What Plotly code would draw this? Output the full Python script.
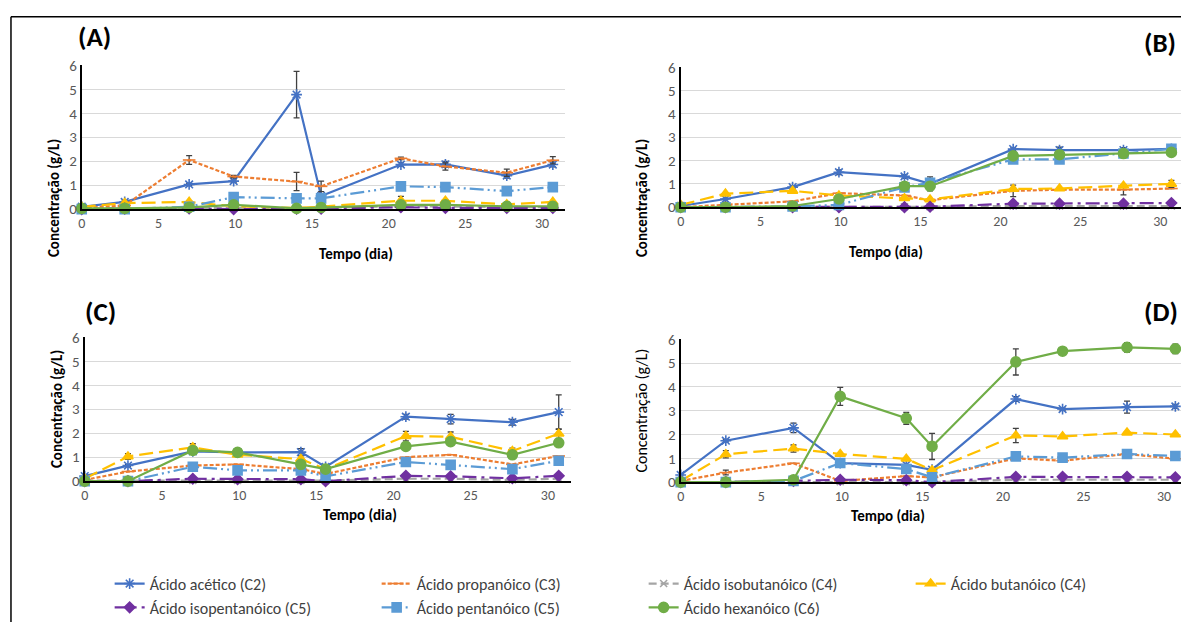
import plotly.graph_objects as go

W, H = 1181, 631

# ---------------- data ----------------
tempo = [0, 2.8, 7, 9.9, 14, 15.6, 20.8, 23.7, 27.7, 30.7]
x_ticks = [0, 5, 10, 15, 20, 25, 30]
y_ticks = [0, 1, 2, 3, 4, 5, 6]

series_names = ["Ácido acético (C2)", "Ácido propanóico (C3)", "Ácido isobutanóico (C4)",
                "Ácido butanóico (C4)", "Ácido isopentanóico (C5)", "Ácido pentanóico (C5)",
                "Ácido hexanóico (C6)"]

# Panel A
A_C2 = [0.1, 0.3, 1.03, 1.17, 4.78, 0.55, 1.86, 1.87, 1.4, 1.86]
A_C3 = [0.05, 0.15, 2.05, 1.36, 1.15, 0.95, 2.12, 1.78, 1.52, 2.04]
A_iC4 = [0.03, 0.03, 0.05, 0.05, 0.03, 0.05, 0.12, 0.1, 0.08, 0.08]
A_C4 = [0.1, 0.25, 0.3, 0.12, 0.05, 0.1, 0.35, 0.35, 0.2, 0.3]
A_iC5 = [0.0, 0.02, 0.03, 0.0, 0.02, 0.02, 0.08, 0.05, 0.05, 0.05]
A_C5 = [0.0, 0.0, 0.1, 0.5, 0.45, 0.45, 0.95, 0.92, 0.75, 0.92]
A_C6 = [0.03, 0.03, 0.07, 0.18, 0.03, 0.07, 0.18, 0.18, 0.12, 0.12]
A_C2_err = [0, 0.05, 0.05, 0.05, 0.97, 0, 0.08, 0.12, 0.1, 0.1]
A_C3_err = [0, 0, 0.18, 0.05, 0.38, 0.22, 0.05, 0.15, 0.15, 0.15]
A_C4_err = [0, 0, 0.05, 0, 0, 0, 0.18, 0.05, 0, 0]

# Panel B
B_C2 = [0.05, 0.35, 0.86, 1.5, 1.32, 1.0, 2.49, 2.45, 2.45, 2.5]
B_C3 = [0.0, 0.1, 0.25, 0.6, 0.5, 0.3, 0.7, 0.75, 0.75, 0.8]
B_iC4 = [0.0, 0.0, 0.02, 0.02, 0.02, 0.02, 0.05, 0.05, 0.05, 0.05]
B_C4 = [0.1, 0.58, 0.7, 0.5, 0.38, 0.33, 0.78, 0.8, 0.92, 1.0]
B_iC5 = [0.0, 0.0, 0.0, 0.0, 0.0, 0.02, 0.15, 0.15, 0.15, 0.18]
B_C5 = [0.0, 0.0, 0.03, 0.1, 0.85, 1.05, 2.05, 2.05, 2.3, 2.5]
B_C6 = [0.0, 0.0, 0.05, 0.35, 0.9, 0.9, 2.2, 2.25, 2.3, 2.35]
B_C2_err = [0, 0, 0.05, 0.1, 0.08, 0.3, 0.05, 0.12, 0.1, 0.1]
B_C3_err = [0, 0, 0, 0, 0, 0, 0.25, 0, 0.22, 0]
B_C4_err = [0, 0, 0, 0, 0, 0, 0, 0, 0, 0.15]
B_C6_err = [0, 0, 0, 0, 0, 0, 0, 0, 0.12, 0]

# Panel C
C_C2 = [0.21, 0.65, 1.24, 1.2, 1.21, 0.59, 2.69, 2.59, 2.46, 2.88]
C_C3 = [0.05, 0.4, 0.65, 0.7, 0.5, 0.3, 1.0, 1.1, 0.7, 1.05]
C_iC4 = [0.02, 0.02, 0.03, 0.03, 0.03, 0.02, 0.1, 0.1, 0.05, 0.1]
C_C4 = [0.1, 1.03, 1.41, 1.1, 0.92, 0.5, 1.88, 1.85, 1.26, 1.98]
C_iC5 = [0.0, 0.0, 0.1, 0.08, 0.08, 0.0, 0.22, 0.2, 0.12, 0.22]
C_C5 = [0.0, 0.0, 0.6, 0.45, 0.45, 0.2, 0.8, 0.68, 0.5, 0.85]
C_C6 = [0.0, 0.0, 1.28, 1.2, 0.7, 0.5, 1.45, 1.65, 1.1, 1.6]
C_C2_err = [0.05, 0.05, 0.05, 0, 0.15, 0, 0.1, 0.2, 0.12, 0.72]
C_C4_err = [0, 0.12, 0.15, 0, 0, 0, 0.2, 0.2, 0.12, 0.2]
C_C6_err = [0, 0, 0, 0, 0, 0, 0, 0, 0.15, 0]

# Panel D
D_C2 = [0.3, 1.74, 2.28, 0.8, 0.72, 0.52, 3.49, 3.07, 3.15, 3.18]
D_C3 = [0.05, 0.4, 0.79, 0.05, 0.25, 0.2, 1.0, 0.9, 1.18, 0.98]
D_iC4 = [0.0, 0.0, 0.02, 0.02, 0.02, 0.0, 0.1, 0.1, 0.1, 0.1]
D_C4 = [0.05, 1.17, 1.41, 1.18, 0.98, 0.5, 1.96, 1.92, 2.08, 2.0]
D_iC5 = [0.0, 0.0, 0.05, 0.1, 0.08, 0.0, 0.22, 0.22, 0.22, 0.2]
D_C5 = [0.0, 0.0, 0.05, 0.8, 0.55, 0.2, 1.08, 1.03, 1.18, 1.1]
D_C6 = [0.0, 0.0, 0.1, 3.6, 2.68, 1.5, 5.05, 5.5, 5.66, 5.6]
D_C2_err = [0, 0.05, 0.2, 0, 0, 0, 0.1, 0.05, 0.25, 0.08]
D_C3_err = [0, 0.1, 0, 0, 0, 0, 0, 0, 0, 0]
D_C4_err = [0, 0.15, 0.15, 0, 0, 0, 0.3, 0, 0, 0]
D_C5_err = [0, 0, 0, 0, 0, 0, 0, 0, 0.15, 0]
D_C6_err = [0, 0, 0, 0.38, 0.25, 0.55, 0.55, 0.1, 0.2, 0.2]

panel_labels = ["(A)", "(B)", "(C)", "(D)"]
x_title = "Tempo (dia)"
y_title = "Concentração (g/L)"

# ---------------- styles ----------------
colors = ["#4472C4", "#ED7D31", "#A5A5A5", "#FFC000", "#7030A0", "#5B9BD5", "#70AD47"]
dashes = ["solid", "4px,2px", "8px,4px", "14px,6px", "14px,5px,3px,5px",
          "14px,4px,2px,4px,2px,4px", "solid"]
symbols = ["asterisk-open", "line-ew-open", "x-thin-open", "triangle-up", "diamond",
           "square", "circle"]
msizes = [9, 9, 7, 9, 8, 9, 10]

panels = [
    ([A_C2, A_C3, A_iC4, A_C4, A_iC5, A_C5, A_C6],
     [A_C2_err, A_C3_err, None, A_C4_err, None, None, None]),
    ([B_C2, B_C3, B_iC4, B_C4, B_iC5, B_C5, B_C6],
     [B_C2_err, B_C3_err, None, B_C4_err, None, None, B_C6_err]),
    ([C_C2, C_C3, C_iC4, C_C4, C_iC5, C_C5, C_C6],
     [C_C2_err, None, None, C_C4_err, None, None, C_C6_err]),
    ([D_C2, D_C3, D_iC4, D_C4, D_iC5, D_C5, D_C6],
     [D_C2_err, D_C3_err, None, D_C4_err, None, D_C5_err, D_C6_err]),
]

# pixel geometry of each plot area: (x0px, x1px, xmax, ybottom px, ytop px)
geom = [
    (78, 563, 31.5, 206, 58),
    (679, 1181, 31.3, 204, 60),
    (81, 569, 31.5, 486, 338),
    (679, 1181, 31.05, 487, 340),
]

FONT = "Carlito, Calibri, Lato, 'Open Sans', sans-serif"
LEGFONT = "'Liberation Sans Narrow', 'Arial Narrow', Carlito, Lato, sans-serif"

fig = go.Figure()

for p, (vals, errs) in enumerate(panels):
    xa = "x" if p == 0 else f"x{p+1}"
    ya = "y" if p == 0 else f"y{p+1}"
    for s in range(7):
        err = errs[s]
        ey = None
        if err is not None:
            ey = dict(type="data", array=[e if e > 0 else None for e in err],
                      color="#404040", thickness=1.3, width=3, visible=True)
        fig.add_trace(go.Scatter(
            x=tempo, y=vals[s], mode="lines+markers", name=series_names[s],
            legendgroup=series_names[s], showlegend=(p == 0),
            line=dict(color=colors[s], width=2.2, dash=dashes[s]),
            marker=dict(symbol=symbols[s], size=msizes[s], color=colors[s],
                        line=dict(color=colors[s], width=1.6)),
            error_y=ey, xaxis=xa, yaxis=ya, cliponaxis=False,
        ))

layout = dict(
    width=W, height=H, margin=dict(l=0, r=0, t=0, b=0),
    paper_bgcolor="white", plot_bgcolor="white",
    font=dict(family=FONT, size=14, color="#595959"),
    showlegend=True,
    legend=dict(orientation="h", x=106 / W, y=1 - 574 / H, xanchor="left", yanchor="top",
                entrywidth=222, entrywidthmode="pixels", traceorder="normal",
                font=dict(family=LEGFONT, size=16, color="#404040"),
                itemwidth=30, tracegroupgap=0, bgcolor="rgba(0,0,0,0)"),
)

annotations = []
shapes = []
for p, (x0, x1, xmax, yb, yt) in enumerate(geom):
    sx = "xaxis" if p == 0 else f"xaxis{p+1}"
    sy = "yaxis" if p == 0 else f"yaxis{p+1}"
    layout[sx] = dict(domain=[x0 / W, x1 / W], range=[0, xmax], tickvals=x_ticks,
                      showgrid=False, zeroline=False, showline=True, linecolor="black",
                      linewidth=2, ticks="", tickfont=dict(size=14, color="#595959"),
                      anchor="y" if p == 0 else f"y{p+1}", fixedrange=True)
    layout[sy] = dict(domain=[1 - yb / H, 1 - yt / H], range=[0, 6], tickvals=y_ticks,
                      showgrid=True, gridcolor="#D9D9D9", gridwidth=1.2, zeroline=False,
                      showline=True, linecolor="black", linewidth=2, ticks="",
                      tickfont=dict(size=15, color="#595959"),
                      anchor="x" if p == 0 else f"x{p+1}", fixedrange=True)
    # axis titles
    cx = (x0 + x0 + 30 * (x1 - x0) / xmax) / 2 + 5
    annotations.append(dict(text=f"<b>{x_title}</b>", x=cx / W, y=1 - (yb + 46) / H,
                            xref="paper", yref="paper", showarrow=False,
                            font=dict(family=FONT, size=15, color="black")))
    bold = p != 3
    annotations.append(dict(text=f"<b>{y_title}</b>" if bold else y_title,
                            x=(x0 - 39) / W, y=1 - ((yb + yt) / 2) / H,
                            xref="paper", yref="paper", showarrow=False, textangle=-90,
                            font=dict(family=FONT, size=15 if bold else 16, color="black")))

# panel labels
label_pos = [(72, 28), (1142, 34), (79, 311), (1142, 311)]
for lab, (lx, ly) in zip(panel_labels, label_pos):
    annotations.append(dict(text=f"<b>{lab}</b>", x=lx / W, y=1 - ly / H, xref="paper",
                            yref="paper", xanchor="left", yanchor="middle", showarrow=False,
                            font=dict(family=FONT, size=27, color="black")))

# frame of the figure
shapes.append(dict(type="line", xref="paper", yref="paper", x0=7 / W, x1=1.0,
                   y0=1 - 8 / H, y1=1 - 8 / H, line=dict(color="black", width=1.5)))
shapes.append(dict(type="line", xref="paper", yref="paper", x0=7 / W, x1=7 / W,
                   y0=0, y1=1 - 8 / H, line=dict(color="black", width=1.5)))

layout["annotations"] = annotations
layout["shapes"] = shapes
fig.update_layout(**layout)

fig.write_html("out.html", config={"displayModeBar": False},
               post_script="document.body.style.margin='0px';document.body.style.padding='0px';")
